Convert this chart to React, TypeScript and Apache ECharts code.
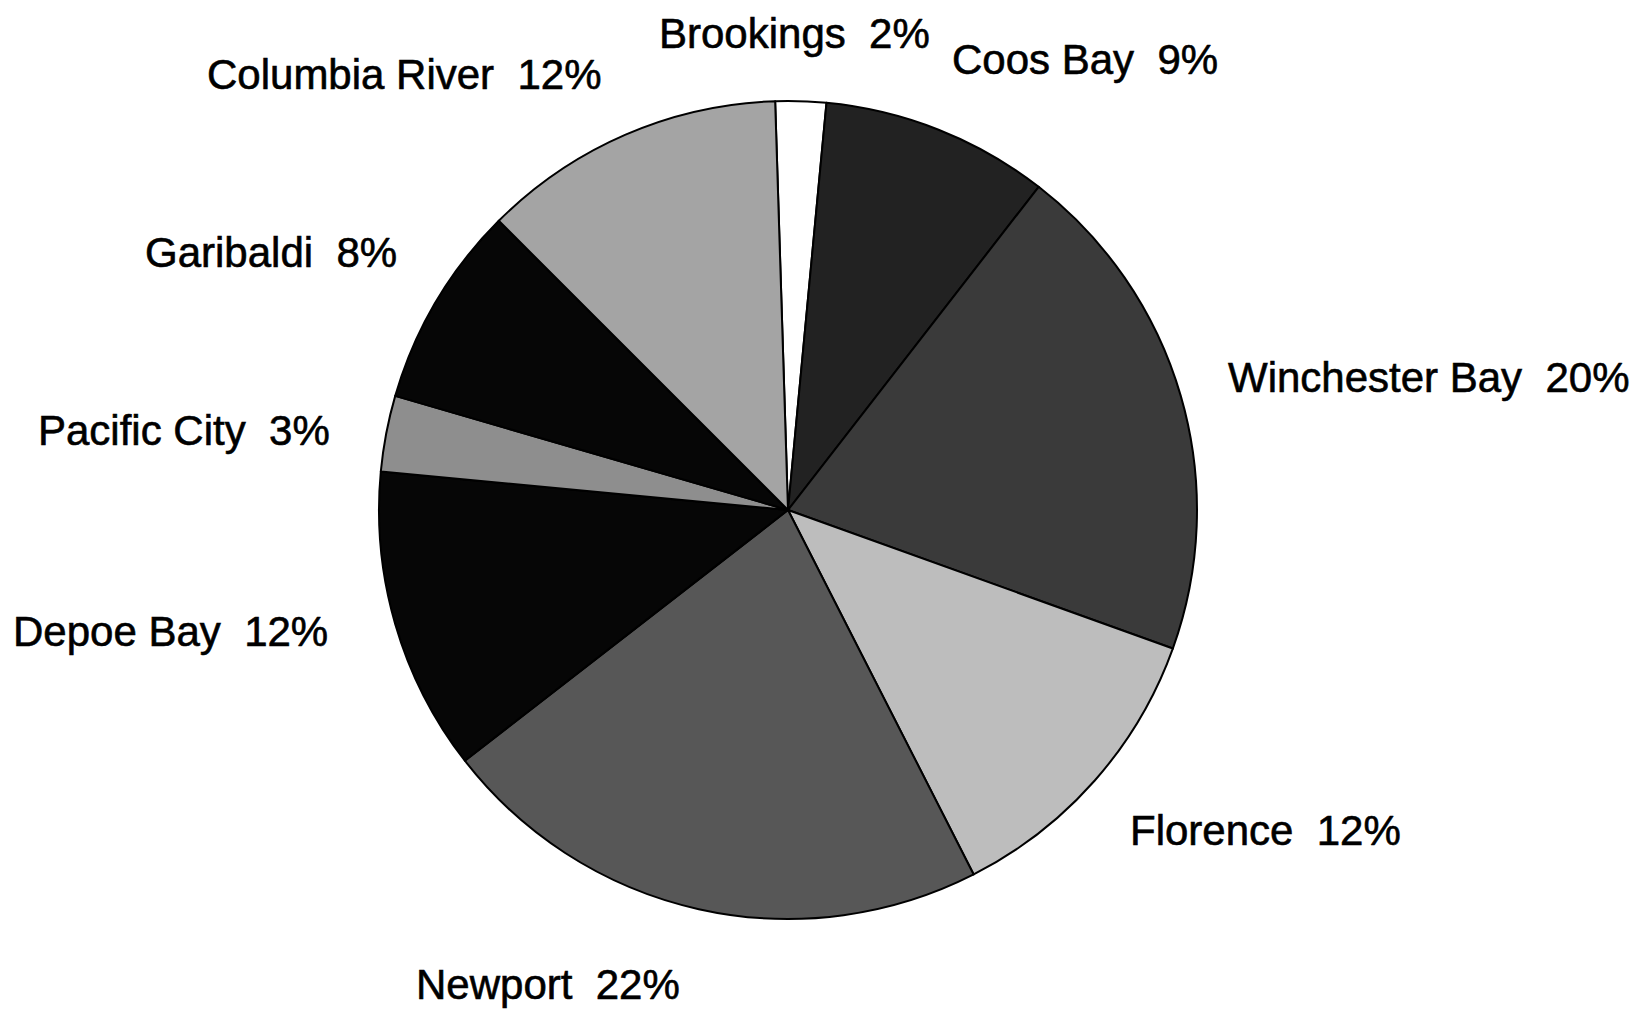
import React, { useEffect, useRef } from "react";
import * as echarts from "echarts";

const categories = [
  "Brookings",
  "Coos Bay",
  "Winchester Bay",
  "Florence",
  "Newport",
  "Depoe Bay",
  "Pacific City",
  "Garibaldi",
  "Columbia River",
];
const percents = [2, 9, 20, 12, 22, 12, 3, 8, 12];

const sliceColors = [
  "#ffffff",
  "#222222",
  "#3a3a3a",
  "#bdbdbd",
  "#575757",
  "#060606",
  "#8e8e8e",
  "#060606",
  "#a4a4a4",
];

// label anchor positions (left, vertical middle) in page pixels
const labelPos: [number, number][] = [
  [659, 33],
  [952, 59],
  [1228, 377],
  [1130, 830],
  [416, 984],
  [13, 631],
  [38, 430],
  [145, 252],
  [207, 74],
];

export default function App() {
  const ref = useRef<HTMLDivElement>(null);
  useEffect(() => {
    if (!ref.current) return;
    const chart = echarts.init(ref.current, undefined, { renderer: "svg" });
    chart.setOption({
      animation: false,
      backgroundColor: "#ffffff",
      series: [
        {
          type: "pie",
          center: [788, 510],
          radius: 409,
          startAngle: 91.8,
          clockwise: true,
          avoidLabelOverlap: false,
          data: categories.map((name, i) => ({
            name,
            value: percents[i],
            itemStyle: { color: sliceColors[i] },
          })),
          itemStyle: { borderColor: "#000000", borderWidth: 2 },
          label: {
            show: true,
            position: "outside",
            formatter: "{b}  {c}%",
            fontFamily: "'Liberation Sans', Arial, Helvetica, sans-serif",
            fontSize: 42,
            color: "#000000",
            textBorderColor: "#000000",
            textBorderWidth: 0.6,
          },
          labelLine: { show: false },
          labelLayout: (params: any) => ({
            x: labelPos[params.dataIndex][0],
            y: labelPos[params.dataIndex][1],
            align: "left",
            verticalAlign: "middle",
          }),
          emphasis: { disabled: true },
        },
      ],
    });
    return () => chart.dispose();
  }, []);
  return (
    <div
      ref={ref}
      style={{ position: "fixed", left: 0, top: 0, width: 1646, height: 1011, background: "#fff" }}
    />
  );
}
